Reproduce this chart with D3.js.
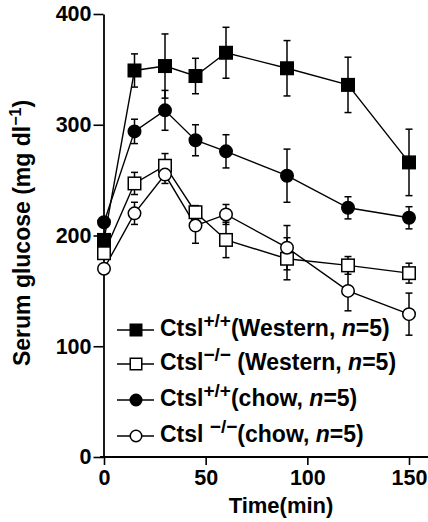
<!DOCTYPE html>
<html><head><meta charset="utf-8">
<script src="https://cdn.jsdelivr.net/npm/d3@7"></script>
<style>body{margin:0;background:#fff}svg{display:block}</style>
</head><body><svg id="c" width="428" height="522"></svg>
<script>
const times = [0,15,30,45,60,90,120,150];
const westernWT = [196,349,353,344,365,351,336,266];
const westernWTErr = [0,15,29,16,23,25,25,30];
const westernKO = [184,247,263,221,196,179,173,166];
const westernKOErr = [0,10,11,6,16,19,8,9];
const chowWT = [212,294,313,286,276,254,225,216];
const chowWTErr = [0,11,18,14,15,24,10,10];
const chowKO = [170,220,255,209,219,189,150,129];
const chowKOErr = [0,10,8,16,9,20,18,19];
const yTicks = [0,100,200,300,400];
const xTicks = [0,50,100,150];
const legendLabels = [
  {sup:"+/+", pre:"", rest:"(Western, "},
  {sup:"\u2212/\u2212", pre:"", rest:" (Western, "},
  {sup:"+/+", pre:"", rest:"(chow, "},
  {sup:"\u2212/\u2212", pre:" ", rest:"(chow, "}
];

const series = [
  {values: westernWT, err: westernWTErr, shape:"square", fill:"#000"},
  {values: westernKO, err: westernKOErr, shape:"square", fill:"#fff"},
  {values: chowWT, err: chowWTErr, shape:"circle", fill:"#000"},
  {values: chowKO, err: chowKOErr, shape:"circle", fill:"#fff"}
];

const font = "'Liberation Sans', Arial, Helvetica, sans-serif";
const svg = d3.select("#c").style("font-family", font);
const x = d3.scaleLinear().domain([0,150]).range([104,409]);
const y = d3.scaleLinear().domain([0,400]).range([457,14]);

// axes
const yAxis = svg.append("g").attr("transform","translate(103.5,0)")
  .call(d3.axisLeft(y).tickValues(yTicks).tickSize(10).tickSizeOuter(0).tickPadding(2));
yAxis.select(".domain").attr("stroke-width",1.8);
yAxis.selectAll(".tick line").attr("stroke-width",1.6);
yAxis.selectAll(".tick text").attr("font-size",21.5).attr("font-weight","bold").attr("fill","#000").attr("font-family",font);

const xAxis = svg.append("g").attr("transform","translate(0,457)")
  .call(d3.axisBottom(x).tickValues(xTicks).tickSize(8).tickSizeOuter(0).tickPadding(5));
xAxis.select(".domain").remove();
xAxis.append("line").attr("x1", x.range()[0]-4).attr("x2", 428).attr("y1",0).attr("y2",0)
  .attr("stroke","#000").attr("stroke-width",2.2);
xAxis.selectAll(".tick line").attr("stroke-width",1.6);
xAxis.selectAll(".tick text").attr("font-size",21.5).attr("font-weight","bold").attr("fill","#000").attr("font-family",font);

// axis titles
svg.append("text").attr("x",281).attr("y",513).attr("text-anchor","middle")
  .attr("font-size",22).attr("font-weight","bold").text("Time(min)");
const yt = svg.append("text").attr("transform","translate(29.5,233) rotate(-90)")
  .attr("text-anchor","middle").attr("font-size",23).attr("font-weight","bold");
yt.append("tspan").text("Serum glucose (mg dl");
yt.append("tspan").attr("dy",-9).attr("font-size",16).text("\u22121");
yt.append("tspan").attr("dy",9).text(")");

function drawMarker(g, shape, fill, cx, cy, s) {
  if (shape === "square") {
    g.append("rect").attr("x",cx-s/2).attr("y",cy-s/2).attr("width",s).attr("height",s)
      .attr("fill",fill).attr("stroke","#000").attr("stroke-width",1.5);
  } else {
    g.append("circle").attr("cx",cx).attr("cy",cy).attr("r",s/2)
      .attr("fill",fill).attr("stroke","#000").attr("stroke-width",1.5);
  }
}

const plot = svg.append("g");
const line = d3.line().x((d,i)=>x(times[i])).y(d=>y(d));
series.forEach(s => {
  const g = plot.append("g");
  g.append("path").attr("d", line(s.values)).attr("fill","none").attr("stroke","#000").attr("stroke-width",1.4);
  s.values.forEach((v,i) => {
    if (!s.err[i]) return;
    const cx = x(times[i]);
    g.append("line").attr("x1",cx).attr("x2",cx).attr("y1",y(v+s.err[i])).attr("y2",y(v-s.err[i]))
      .attr("stroke","#000").attr("stroke-width",1.5);
    [v+s.err[i], v-s.err[i]].forEach(e => {
      g.append("line").attr("x1",cx-3.5).attr("x2",cx+3.5).attr("y1",y(e)).attr("y2",y(e))
        .attr("stroke","#000").attr("stroke-width",1.5);
    });
  });
});
series.forEach(s => {
  const g = plot.append("g");
  s.values.forEach((v,i) => drawMarker(g, s.shape, s.fill, x(times[i]), y(v), 12.5));
});

// legend
const legBase = [336,370,406,442];
const leg = svg.append("g");
series.forEach((s,i) => {
  const by = legBase[i], my = by - 6;
  leg.append("line").attr("x1",117).attr("x2",154).attr("y1",my).attr("y2",my)
    .attr("stroke","#000").attr("stroke-width",1.5);
  drawMarker(leg, s.shape, s.fill, 136, my, 11.5);
  const t = leg.append("text").attr("x",160).attr("y",by).attr("font-size",23).attr("font-weight","bold");
  const L = legendLabels[i];
  t.append("tspan").text("Ctsl" + L.pre);
  t.append("tspan").attr("dy",-9).attr("font-size",19).text(L.sup);
  t.append("tspan").attr("dy",9).text(L.rest);
  t.append("tspan").attr("font-style","italic").text("n");
  t.append("tspan").text("=5)");
});
</script></body></html>
